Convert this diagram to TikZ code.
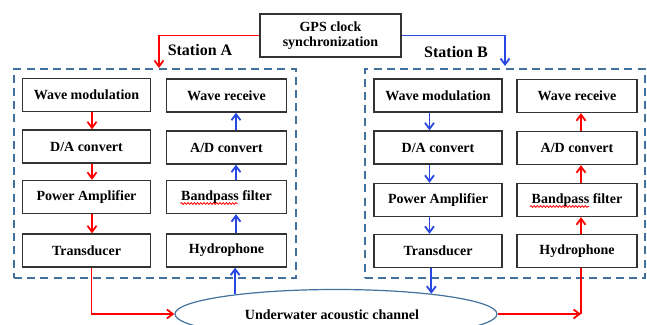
\documentclass[tikz,border=0pt]{standalone}
\usepackage{fontspec}
\setmainfont{Liberation Serif}
\usetikzlibrary{arrows.meta, shapes.geometric, decorations.pathmorphing}

\definecolor{framecol}{RGB}{65,113,156}
\definecolor{sigred}{RGB}{255,0,0}
\definecolor{sigblue}{RGB}{40,70,225}

\begin{document}
\begin{tikzpicture}[x=0.5pt,y=-0.5pt,
      block/.style={
        rectangle,
        draw=black!80,
        line width=0.7pt,
        minimum height=16.5pt,
        inner sep=0pt,
        font=\fontsize{7}{8.4}\selectfont\bfseries
      },
      leftblock/.style={block, minimum width=64pt},
      rightblock/.style={block, minimum width=60pt},
      frame/.style={draw=framecol, line width=1pt, dash pattern=on 4pt off 2.6pt,
        minimum height=104.5pt, inner sep=0pt},
      redline/.style={draw=sigred, line width=0.9pt},
      blueline/.style={draw=sigblue, line width=0.9pt},
      redarr/.style={redline, ->},
      bluearr/.style={blueline, ->},
      squiggle/.style={draw=sigred, line width=0.4pt,
        decorate, decoration={snake, segment length=1.6pt, amplitude=0.45pt}},
      >={Straight Barb[length=3pt,width=4.5pt]}]

    \clip (0,0) rectangle (647,325);

    % dashed station frames
    \node[frame, minimum width=141pt] (frA) at (155,173.5) {};
    \node[frame, minimum width=140pt] (frB) at (505,173.5) {};

    % clock
    \node[block, minimum width=70.5pt, minimum height=21.5pt, align=center,
      font=\fontsize{7}{7.6}\selectfont\bfseries] (gps) at (330.5,35.5)
      {GPS clock\\synchronization};
    \node[font=\fontsize{8}{9}\selectfont\bfseries] (labA) at (200,50) {Station A};
    \node[font=\fontsize{8}{9}\selectfont\bfseries] (labB) at (456,52) {Station B};

    % station A
    \node[leftblock] (wmA) at (86.5,95) {Wave modulation};
    \node[leftblock] (daA) at (86.5,146.5) {D/A convert};
    \node[leftblock] (paA) at (86.5,197) {Power Amplifier};
    \node[leftblock] (trA) at (86.5,250.5) {Transducer};
    \node[rightblock] (wrA) at (226.5,95.5) {Wave receive};
    \node[rightblock] (adA) at (226.5,147.5) {A/D convert};
    \node[rightblock] (bpA) at (226.5,197) {Bandpass filter};
    \node[rightblock] (hyA) at (226.5,250.5) {Hydrophone};

    % station B
    \node[leftblock] (wmB) at (438,95.5) {Wave modulation};
    \node[leftblock] (daB) at (438,147.5) {D/A convert};
    \node[leftblock] (paB) at (438,200) {Power Amplifier};
    \node[leftblock] (trB) at (438,251) {Transducer};
    \node[rightblock] (wrB) at (577,96) {Wave receive};
    \node[rightblock] (adB) at (577,148) {A/D convert};
    \node[rightblock] (bpB) at (577,200) {Bandpass filter};
    \node[rightblock] (hyB) at (577,251) {Hydrophone};

    \draw[squiggle] ([shift={(-46,6.5)}]bpA.center) -- ++(57,0);
    \draw[squiggle] ([shift={(-47,6.5)}]bpB.center) -- ++(59,0);

    % channel
    \node[ellipse, draw=framecol, line width=0.6pt, minimum width=161pt,
      minimum height=24.5pt, inner sep=0pt,
      font=\fontsize{7}{8.4}\selectfont\bfseries] (ch) at (336,314) {};
    \node[font=\fontsize{7}{8.4}\selectfont\bfseries] (chtext) at (332,315)
      {Underwater acoustic channel};

    % synchronization
    \draw[redarr] (gps.west) -| ([xshift=2pt]frA.north);
    \draw[bluearr] (gps.east) -| ([yshift=1pt]frB.north);

    % station A chains
    \draw[redarr] ([xshift=2.75pt]wmA.south) -- ([xshift=2.75pt]daA.north);
    \draw[redarr] ([xshift=2.75pt]daA.south) -- ([xshift=2.75pt]paA.north);
    \draw[redarr] ([xshift=2.75pt]paA.south) -- ([xshift=2.75pt]trA.north);
    \draw[bluearr] ([xshift=4.75pt]hyA.north) -- ([xshift=4.75pt]bpA.south);
    \draw[bluearr] ([xshift=4.75pt]bpA.north) -- ([xshift=4.75pt]adA.south);
    \draw[bluearr] ([xshift=4.75pt]adA.north) -- ([xshift=4.75pt]wrA.south);

    % station B chains
    \draw[bluearr] ([xshift=-4.25pt]wmB.south) -- ([xshift=-4.25pt]daB.north);
    \draw[bluearr] ([xshift=-4.25pt]daB.south) -- ([xshift=-4.25pt]paB.north);
    \draw[bluearr] ([xshift=-4.25pt]paB.south) -- ([xshift=-4.25pt]trB.north);
    \draw[redarr] ([xshift=2pt]hyB.north) -- ([xshift=2pt]bpB.south);
    \draw[redarr] ([xshift=2pt]bpB.north) -- ([xshift=2pt]adB.south);
    \draw[redarr] ([xshift=2pt]adB.north) -- ([xshift=2pt]wrB.south);

    % through the water
    \draw[redarr] ([xshift=2.5pt]trA.south) |- (ch.west);
    \draw[bluearr] (ch.169) -- (ch.169 |- hyA.south);
    \draw[bluearr] (ch.12 |- trB.south) -- (ch.12);
    \coordinate (cornerB) at ([xshift=2pt]hyB.south |- ch.east);
    \draw[redarr] (ch.east) -- (cornerB);
    \draw[redline] (cornerB) -- ([xshift=2pt]hyB.south);
  \end{tikzpicture}
\end{document}
